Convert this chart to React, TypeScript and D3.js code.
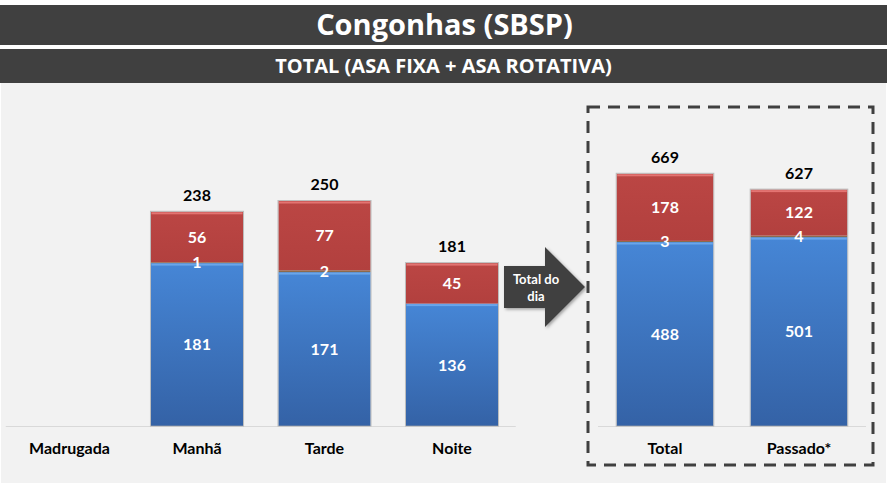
import React from "react";
import * as d3 from "d3";

const W = 887;
const H = 486;

const leftCategories = ["Madrugada", "Manhã", "Tarde", "Noite"];
const leftBlue = [0, 181, 171, 136];
const leftMid = [0, 1, 2, 0];
const leftRed = [0, 56, 77, 45];

const rightCategories = ["Total", "Passado*"];
const rightBlue = [488, 501];
const rightMid = [3, 4];
const rightRed = [178, 122];

const title = "Congonhas (SBSP)";
const subtitle = "TOTAL (ASA FIXA + ASA ROTATIVA)";
const arrowText = ["Total do", "dia"];

const FONT = "Lato, 'Open Sans', sans-serif";

type Group = {
  cats: string[];
  blue: number[];
  mid: number[];
  red: number[];
  x: d3.ScaleBand<string>;
  y: d3.ScaleLinear<number, number>;
};

function Bars({ g }: { g: Group }) {
  const keys = ["blue", "mid", "red"];
  const rows = g.cats.map((c, i) => ({ cat: c, blue: g.blue[i], mid: g.mid[i], red: g.red[i] }));
  const stack = d3.stack<any>().keys(keys)(rows);
  const fills: Record<string, string> = { blue: "url(#gBlue)", mid: "#8c6a4c", red: "url(#gRed)" };
  const bw = g.x.bandwidth();
  const [r0, r1] = g.x.range();
  const base = g.y(0);
  return (
    <g>
      <line x1={r0} x2={r1} y1={base + 0.5} y2={base + 0.5} stroke="#d9d9d9" strokeWidth={1} />
      {stack.map((s) =>
        s.map((d, i) => {
          const v = d[1] - d[0];
          if (v <= 0) return null;
          const x = g.x(rows[i].cat)!;
          const y0 = g.y(d[1]);
          const h = g.y(d[0]) - g.y(d[1]);
          return (
            <g key={s.key + i}>
              <rect x={x} y={y0} width={bw} height={Math.max(h, 0.8)} fill={fills[s.key]} />
              {s.key !== "mid" && (
                <rect x={x + 0.5} y={y0 + 0.5} width={bw - 1} height={2} fill={s.key === "blue" ? "#6aa6ea" : "#e37472"} />
              )}
            </g>
          );
        })
      )}
      {rows.map((r, i) => {
        const tot = r.blue + r.mid + r.red;
        if (tot <= 0) return null;
        const x = g.x(r.cat)!;
        return (
          <rect key={"o" + i} x={x - 0.5} y={g.y(tot) - 0.5} width={bw + 1} height={base - g.y(tot) + 0.5}
            fill="none" stroke="#a6a6a6" strokeWidth={1} strokeOpacity={0.7} />
        );
      })}
      {stack.map((s) =>
        s.map((d, i) => {
          const v = d[1] - d[0];
          if (v <= 0) return null;
          const cx = g.x(rows[i].cat)! + bw / 2;
          const cy = g.y((d[0] + d[1]) / 2);
          return (
            <text key={"t" + s.key + i} x={cx} y={cy} dy="0.36em" textAnchor="middle" fill="#ffffff"
              fontFamily={FONT} fontWeight={700} fontSize={16}>{v}</text>
          );
        })
      )}
      {rows.map((r, i) => {
        const tot = r.blue + r.mid + r.red;
        if (tot <= 0) return null;
        return (
          <text key={"tt" + i} x={g.x(r.cat)! + bw / 2} y={g.y(tot) - 11} textAnchor="middle" fill="#000"
            fontFamily={FONT} fontWeight={700} fontSize={16}>{tot}</text>
        );
      })}
      {rows.map((r, i) => (
        <text key={"c" + i} x={g.x(r.cat)! + bw / 2} y={454} textAnchor="middle" fill="#000"
          fontFamily={FONT} fontWeight={700} fontSize={16}>{r.cat}</text>
      ))}
    </g>
  );
}

export default function App() {
  const base = 426;
  const xl = d3.scaleBand<string>().domain(leftCategories).range([5.75, 515.75]).paddingInner(0.278).paddingOuter(0.139);
  const yl = d3.scaleLinear().domain([0, 300]).range([base, base - 270]);
  const xr = d3.scaleBand<string>().domain(rightCategories).range([598, 866]).paddingInner(0.279).paddingOuter(0.1395);
  const yr = d3.scaleLinear().domain([0, 700]).range([base, base - 700 * 0.377]);

  const arrowPts = [
    [504, 266], [545, 266], [545, 247], [585, 287], [545, 327], [545, 308], [504, 308],
  ].map((p) => p.join(",")).join(" ");

  return (
    <svg width={W} height={H} style={{ position: "absolute", left: 0, top: 0 }}>
      <defs>
        <linearGradient id="gBlue" x1="0" y1="0" x2="0" y2="1">
          <stop offset="0" stopColor="#4686d6" />
          <stop offset="1" stopColor="#3462a6" />
        </linearGradient>
        <linearGradient id="gRed" x1="0" y1="0" x2="0" y2="1">
          <stop offset="0" stopColor="#bb4644" />
          <stop offset="1" stopColor="#b2403e" />
        </linearGradient>
        <filter id="sh" x="-20%" y="-20%" width="140%" height="140%">
          <feDropShadow dx="1.5" dy="1.5" stdDeviation="1.5" floodColor="#000" floodOpacity="0.35" />
        </filter>
      </defs>
      <rect x={0} y={0} width={W} height={H} fill="#ffffff" />
      <rect x={1} y={83} width={W - 2} height={H - 86} fill="#f2f2f2" />
      <rect x={0} y={5} width={W} height={40} fill="#404040" />
      <text x={W / 2 + 1} y={25} dy="0.36em" textAnchor="middle" fill="#fff" fontFamily="'Open Sans', sans-serif"
        fontWeight={700} fontSize={29}>{title}</text>
      <rect x={0} y={49} width={W} height={34} fill="#404040" />
      <text x={W / 2} y={66} dy="0.36em" textAnchor="middle" fill="#fff" fontFamily="'Open Sans', sans-serif"
        fontWeight={700} fontSize={20}>{subtitle}</text>

      <Bars g={{ cats: leftCategories, blue: leftBlue, mid: leftMid, red: leftRed, x: xl, y: yl }} />
      <Bars g={{ cats: rightCategories, blue: rightBlue, mid: rightMid, red: rightRed, x: xr, y: yr }} />

      <polygon points={arrowPts} fill="#404040" filter="url(#sh)" />
      <text x={536} y={284} textAnchor="middle" fill="#fff" fontFamily={FONT} fontWeight={700} fontSize={13}>{arrowText[0]}</text>
      <text x={536} y={301} textAnchor="middle" fill="#fff" fontFamily={FONT} fontWeight={700} fontSize={13}>{arrowText[1]}</text>

      <rect x={588} y={107} width={285} height={358} fill="none" stroke="#404040" strokeWidth={3} strokeDasharray="12 8" />
    </svg>
  );
}
